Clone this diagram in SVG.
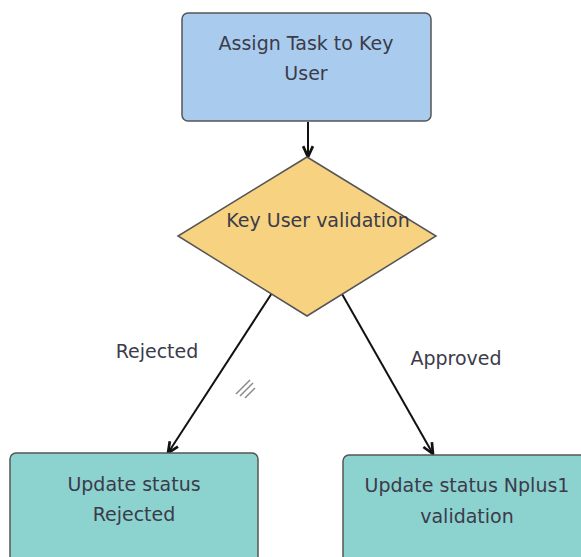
<svg xmlns="http://www.w3.org/2000/svg" width="581" height="557" viewBox="0 0 581 557">
<style>
text{font-family:"DejaVu Sans","Liberation Sans",sans-serif;font-size:19px;fill:#3b3b4a;text-anchor:middle}
.box{stroke:#555;stroke-width:1.5}
.conn{stroke:#111;stroke-width:2;fill:none}
</style>
<defs>
<marker id="arr" viewBox="0 0 12 12" refX="11" refY="6" markerWidth="13" markerHeight="13" markerUnits="userSpaceOnUse" orient="auto">
<path d="M1,1.5 L11,6 L1,10.5" fill="none" stroke="#111" stroke-width="2.5"/>
</marker>
</defs>
<rect width="581" height="557" fill="#fff"/>
<g id="connectors">
<line class="conn" x1="308" y1="122" x2="308" y2="157" marker-end="url(#arr)"/>
<line class="conn" x1="272" y1="293" x2="168" y2="453" marker-end="url(#arr)"/>
<line class="conn" x1="342" y1="294" x2="433" y2="454" marker-end="url(#arr)"/>
<text x="157" y="358">Rejected</text>
<text x="456" y="365">Approved</text>
<g stroke="#888" stroke-width="1.5">
<line x1="236" y1="394" x2="250" y2="380"/>
<line x1="240" y1="396" x2="253" y2="383"/>
<line x1="245" y1="398" x2="255" y2="388"/>
</g>
</g>
<g id="assign">
<rect class="box" x="182" y="13" width="249" height="108" rx="6" fill="#a9cbee"/>
<text x="306" y="50">Assign Task to Key</text>
<text x="306" y="80">User</text>
</g>
<g id="validation">
<polygon class="box" points="307,157 436,236 307,316 178,236" fill="#f6d281"/>
<text x="318" y="227">Key User validation</text>
</g>
<g id="rejected">
<rect class="box" x="10" y="453" width="248" height="120" rx="6" fill="#8cd2cf"/>
<text x="134" y="491">Update status</text>
<text x="134" y="521">Rejected</text>
</g>
<g id="approved">
<rect class="box" x="343" y="455" width="260" height="120" rx="6" fill="#8cd2cf"/>
<text x="467" y="492">Update status Nplus1</text>
<text x="467" y="523">validation</text>
</g>
</svg>
